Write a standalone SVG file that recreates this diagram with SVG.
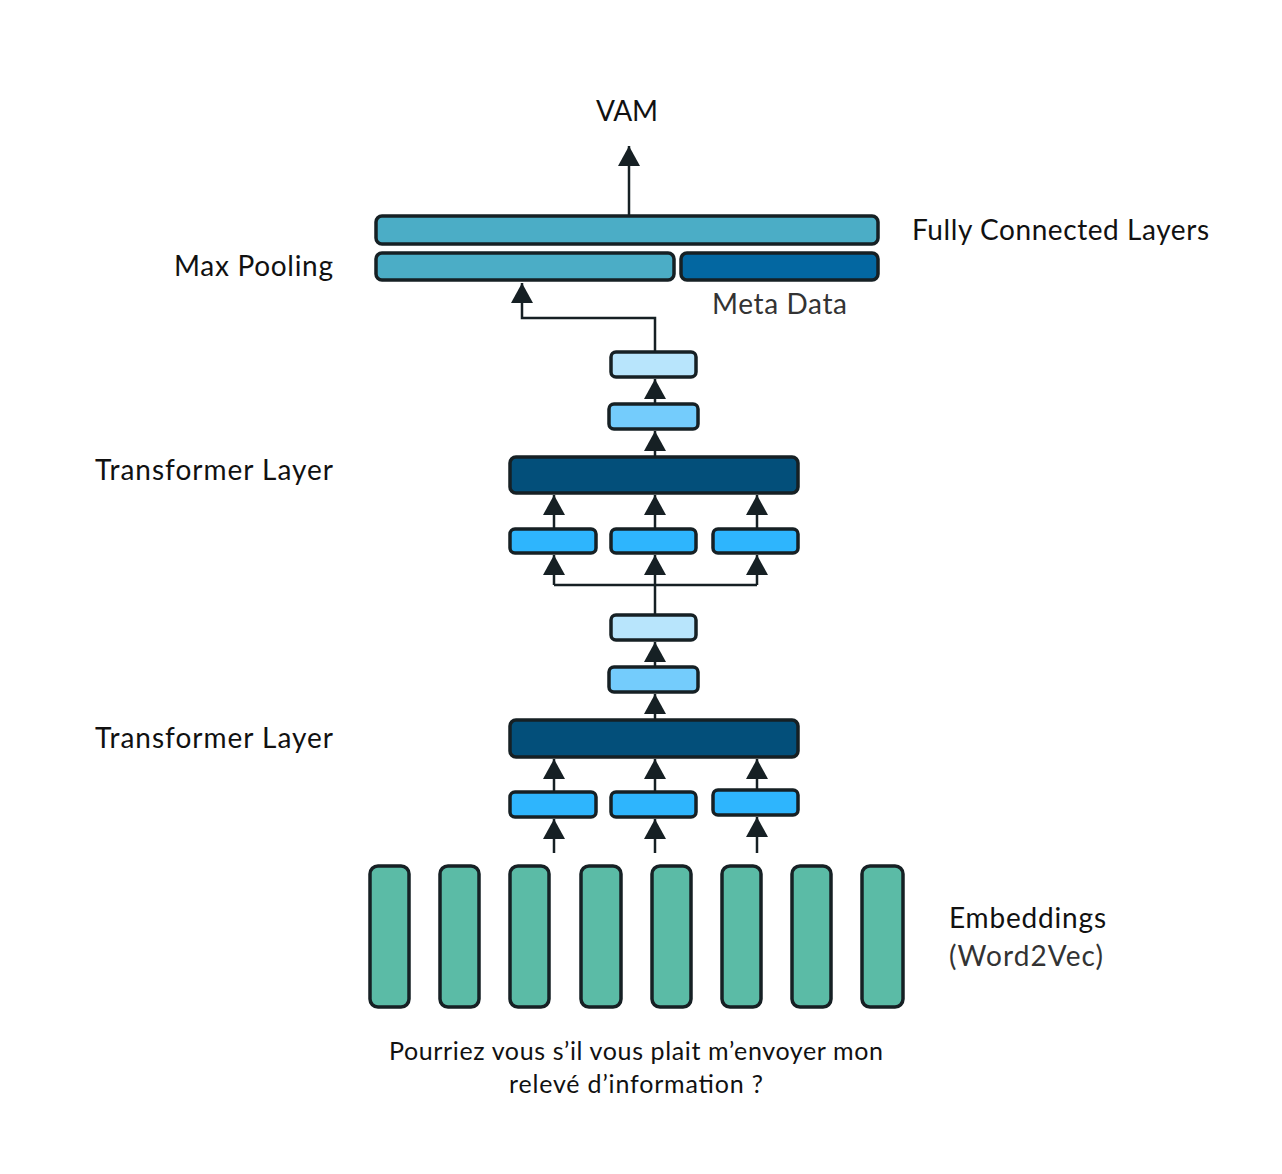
<svg xmlns="http://www.w3.org/2000/svg" width="1282" height="1174" viewBox="0 0 1282 1174">
<style>
.box{stroke:#162024;stroke-width:3.5}
.fc{fill:#4badc6}
.meta{fill:#0367a1}
.tr{fill:#034f7a}
.lt{fill:#b8e5fc}
.md{fill:#74ccfc}
.in{fill:#2eb5fd}
.emb{fill:#5bbba6}
.con{fill:none;stroke:#162024;stroke-width:2.5}
.lbl{font-family:Lato,"Open Sans",sans-serif;font-size:28px;fill:#111}
.sm{font-family:Lato,"Open Sans",sans-serif;font-size:25px;fill:#111}
</style>
<defs>
<marker id="ah" markerUnits="userSpaceOnUse" markerWidth="22" markerHeight="22" viewBox="0 0 22 22" refX="20" refY="11" orient="auto">
<path d="M0,0 L20,11 L0,22 Z" fill="#162024"/>
</marker>
</defs>
<rect width="1282" height="1174" fill="#fff"/>
<g id="connectors">
<line class="con" x1="629" y1="215" x2="629" y2="146" marker-end="url(#ah)"/>
<polyline class="con" points="655,352 655,318 522,318 522,283" marker-end="url(#ah)"/>
<line class="con" x1="655" y1="403" x2="655" y2="379" marker-end="url(#ah)"/>
<line class="con" x1="655" y1="456" x2="655" y2="431" marker-end="url(#ah)"/>
<line class="con" x1="554" y1="528" x2="554" y2="495" marker-end="url(#ah)"/>
<line class="con" x1="655" y1="528" x2="655" y2="495" marker-end="url(#ah)"/>
<line class="con" x1="757" y1="528" x2="757" y2="495" marker-end="url(#ah)"/>
<polyline class="con" points="554,585 757,585"/>
<line class="con" x1="655" y1="615" x2="655" y2="585"/>
<line class="con" x1="554" y1="585" x2="554" y2="555" marker-end="url(#ah)"/>
<line class="con" x1="655" y1="585" x2="655" y2="555" marker-end="url(#ah)"/>
<line class="con" x1="757" y1="585" x2="757" y2="555" marker-end="url(#ah)"/>
<line class="con" x1="655" y1="667" x2="655" y2="642" marker-end="url(#ah)"/>
<line class="con" x1="655" y1="719" x2="655" y2="694" marker-end="url(#ah)"/>
<line class="con" x1="554" y1="791" x2="554" y2="759" marker-end="url(#ah)"/>
<line class="con" x1="655" y1="791" x2="655" y2="759" marker-end="url(#ah)"/>
<line class="con" x1="757" y1="789" x2="757" y2="759" marker-end="url(#ah)"/>
<line class="con" x1="554" y1="853" x2="554" y2="819" marker-end="url(#ah)"/>
<line class="con" x1="655" y1="853" x2="655" y2="819" marker-end="url(#ah)"/>
<line class="con" x1="757" y1="853" x2="757" y2="817" marker-end="url(#ah)"/>
</g>
<g id="fc"><rect class="box fc" x="376" y="216" width="502" height="28" rx="6"/></g>
<g id="maxpool"><rect class="box fc" x="376" y="253" width="298" height="27" rx="6"/></g>
<g id="metadata"><rect class="box meta" x="681" y="253" width="197" height="27" rx="6"/></g>
<g id="t2-light"><rect class="box lt" x="611" y="352" width="85" height="25" rx="5"/></g>
<g id="t2-mid"><rect class="box md" x="609" y="404" width="89" height="25" rx="5"/></g>
<g id="t2-layer"><rect class="box tr" x="510" y="457" width="288" height="36" rx="6"/></g>
<g id="t2-in1"><rect class="box in" x="510" y="529" width="86" height="24" rx="5"/></g>
<g id="t2-in2"><rect class="box in" x="611" y="529" width="85" height="24" rx="5"/></g>
<g id="t2-in3"><rect class="box in" x="713" y="529" width="85" height="24" rx="5"/></g>
<g id="t1-light"><rect class="box lt" x="611" y="615" width="85" height="25" rx="5"/></g>
<g id="t1-mid"><rect class="box md" x="609" y="667" width="89" height="25" rx="5"/></g>
<g id="t1-layer"><rect class="box tr" x="510" y="720" width="288" height="37" rx="6"/></g>
<g id="t1-in1"><rect class="box in" x="510" y="792" width="86" height="25" rx="5"/></g>
<g id="t1-in2"><rect class="box in" x="611" y="792" width="85" height="25" rx="5"/></g>
<g id="t1-in3"><rect class="box in" x="713" y="790" width="85" height="25" rx="5"/></g>
<g id="embeddings">
<rect class="box emb" x="370" y="866" width="39" height="141" rx="8"/>
<rect class="box emb" x="440" y="866" width="39" height="141" rx="8"/>
<rect class="box emb" x="510" y="866" width="39" height="141" rx="8"/>
<rect class="box emb" x="581" y="866" width="40" height="141" rx="8"/>
<rect class="box emb" x="652" y="866" width="39" height="141" rx="8"/>
<rect class="box emb" x="722" y="866" width="39" height="141" rx="8"/>
<rect class="box emb" x="792" y="866" width="39" height="141" rx="8"/>
<rect class="box emb" x="862" y="866" width="41" height="141" rx="8"/>
</g>
<g id="labels">
<text class="lbl" x="596" y="121" textLength="62" lengthAdjust="spacing">VAM</text>
<text class="lbl" x="912" y="240" textLength="297" lengthAdjust="spacing">Fully Connected Layers</text>
<text class="lbl" x="174" y="276" textLength="159" lengthAdjust="spacing">Max Pooling</text>
<text class="lbl" x="712" y="314" textLength="135" lengthAdjust="spacing" style="fill:#333">Meta Data</text>
<text class="lbl" x="95" y="480" textLength="238" lengthAdjust="spacing">Transformer Layer</text>
<text class="lbl" x="95" y="748" textLength="238" lengthAdjust="spacing">Transformer Layer</text>
<text class="lbl" x="949" y="928" textLength="157" lengthAdjust="spacing">Embeddings</text>
<text class="lbl" x="949" y="966" textLength="154" lengthAdjust="spacing" style="fill:#333">(Word2Vec)</text>
<text class="sm" x="389" y="1060" textLength="494" lengthAdjust="spacing">Pourriez vous s’il vous plait m’envoyer mon</text>
<text class="sm" x="509" y="1093" textLength="254" lengthAdjust="spacing">relevé d’information ?</text>
</g>
</svg>
